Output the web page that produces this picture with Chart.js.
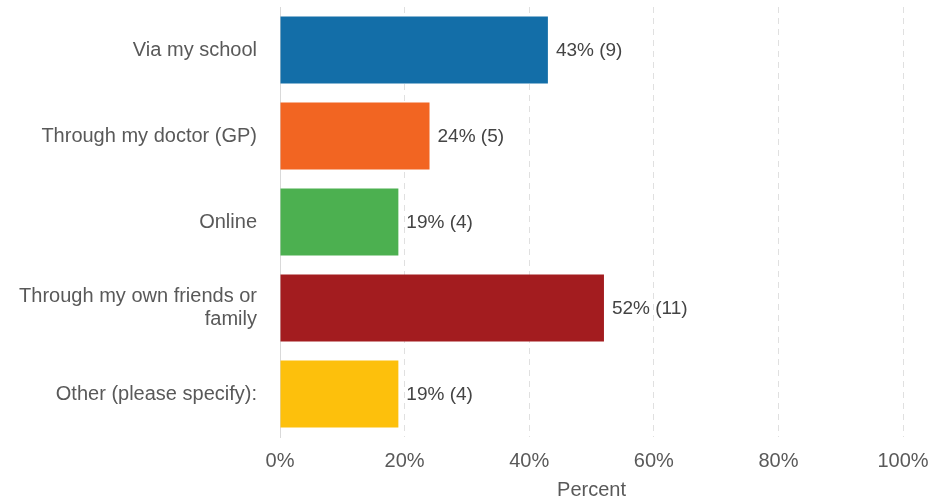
<!DOCTYPE html>
<html lang="en">
<head>
  <meta charset="UTF-8">
  <title>Percent</title>
  <script src="https://cdn.jsdelivr.net/npm/chart.js"></script>
  <style>
    html,body{margin:0;padding:0;background:#fff;}
    #wrap{width:928px;height:499px;}
  </style>
</head>
<body>
  <div id="wrap"><canvas id="chart" width="928" height="499"></canvas></div>
  <script>
    // data
    const categories = ['Via my school', 'Through my doctor (GP)', 'Online',
      ['Through my own friends or', 'family'], 'Other (please specify):'];
    const percents = [43, 24, 19, 52, 19];
    const counts = [9, 5, 4, 11, 4];
    const barColors = ['#136ea8', '#f26522', '#4cb050', '#a31c1f', '#fdc00c'];
    const xTicks = [0, 20, 40, 60, 80, 100];

    const FONT = '"Liberation Sans", Arial, sans-serif';

    // value labels at the bar ends
    const valueLabels = {
      id: 'valueLabels',
      afterDatasetsDraw(chart) {
        const ctx = chart.ctx;
        const meta = chart.getDatasetMeta(0);
        ctx.save();
        ctx.font = '19px ' + FONT;
        ctx.fillStyle = '#444444';
        ctx.textBaseline = 'middle';
        meta.data.forEach((bar, i) => {
          ctx.fillText(percents[i] + '% (' + counts[i] + ')', bar.x + 8, bar.y + 1);
        });
        ctx.restore();
      }
    };

    new Chart(document.getElementById('chart'), {
      type: 'bar',
      data: {
        labels: categories,
        datasets: [{
          data: percents,
          backgroundColor: barColors,
          categoryPercentage: 0.78,
          barPercentage: 1
        }]
      },
      plugins: [valueLabels],
      options: {
        indexAxis: 'y',
        responsive: false,
        animation: false,
        layout: { padding: { top: 7, right: 25, left: 0, bottom: 0 } },
        plugins: { legend: { display: false }, tooltip: { enabled: false } },
        scales: {
          x: {
            min: 0, max: 100,
            afterBuildTicks: s => { s.ticks = xTicks.map(v => ({ value: v })); },
            afterFit: s => { s.height = 62; s.paddingLeft = 0; s.paddingRight = 0; },
            ticks: {
              callback: v => v + '%',
              color: '#595959',
              padding: 12,
              maxRotation: 0,
              font: { size: 20, family: FONT }
            },
            grid: {
              color: c => c.tick && c.tick.value === 0 ? 'rgba(0,0,0,0)' : '#e0e0e0',
              drawTicks: false
            },
            border: { display: false, dash: [6, 5] },
            title: {
              display: true, text: 'Percent', color: '#595959',
              padding: { top: 4, bottom: -3 },
              font: { size: 20, family: FONT }
            }
          },
          y: {
            afterFit: s => { s.width = 280; s.paddingTop = 0; s.paddingBottom = 0; },
            grid: { display: false, drawTicks: false },
            border: { display: true, color: '#d9d9d9', width: 1 },
            ticks: {
              color: '#595959',
              padding: 23,
              font: { size: 20, family: FONT, lineHeight: 1.15 }
            }
          }
        }
      }
    });
  </script>
</body>
</html>
